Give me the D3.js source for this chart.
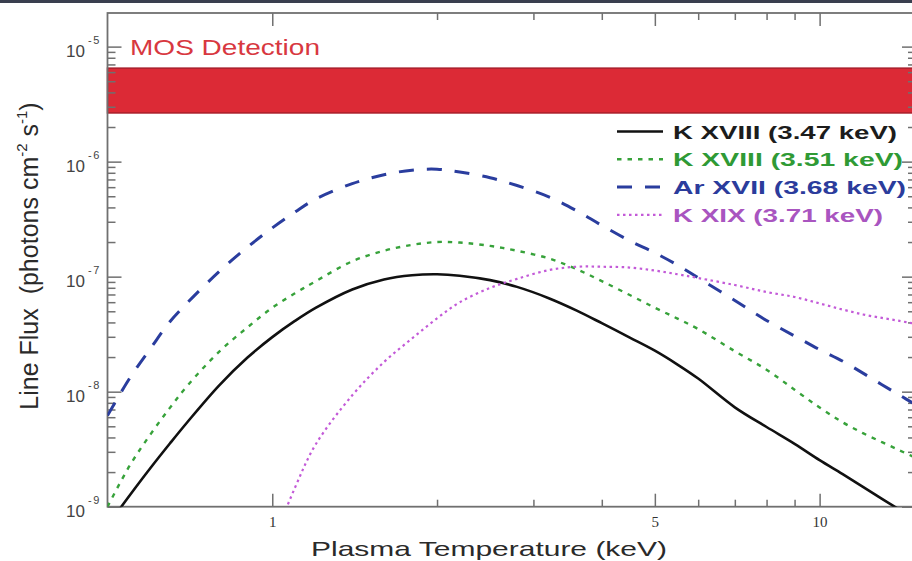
<!DOCTYPE html>
<html>
<head>
<meta charset="utf-8">
<script src="https://cdn.jsdelivr.net/npm/d3@7"></script>
<style>
  html, body { margin: 0; padding: 0; background: #fff; }
  svg { display: block; font-family: "Liberation Sans", Arial, Helvetica, sans-serif; }
</style>
</head>
<body>
<svg id="chart" width="912" height="561"></svg>
<script>
// Plasma temperature grid (keV) shared by all line-flux curves
const temperature = [0.5, 0.55, 0.6, 0.65, 0.7, 0.8, 0.9, 1.0, 1.1, 1.2, 1.4, 1.6, 1.8, 2.0, 2.2,
  2.5, 2.8, 3.2, 3.6, 4.0, 4.5, 5, 5.5, 6, 7, 8, 9, 10, 11, 12, 13, 14, 15];

// Line flux (photons cm^-2 s^-1) for each emission line
const fluxKXVIII_347 = [6.85e-10, 1.27e-9, 2.19e-9, 3.54e-9, 5.45e-9, 1.135e-8, 1.97e-8, 2.98e-8, 4.12e-8, 5.35e-8,
  7.74e-8, 9.46e-8, 1.03e-7, 1.05e-7, 1.02e-7, 9.33e-8, 8.15e-8, 6.5e-8, 5.07e-8, 3.94e-8,
  2.95e-8, 2.27e-8, 1.72e-8, 1.30e-8, 7.31e-9, 4.93e-9, 3.52e-9, 2.54e-9, 1.93e-9, 1.49e-9,
  1.17e-9, 9.4e-10, 7.6e-10];
const fluxKXVIII_351 = [1.0e-9, 2.31e-9, 4.3e-9, 7.23e-9, 1.13e-8, 2.23e-8, 3.61e-8, 5.37e-8, 7.16e-8, 9.12e-8,
  1.36e-7, 1.68e-7, 1.89e-7, 2.0e-7, 1.98e-7, 1.85e-7, 1.68e-7, 1.44e-7, 1.16e-7, 9.14e-8,
  6.92e-8, 5.37e-8, 4.32e-8, 3.5e-8, 2.25e-8, 1.55e-8, 1.04e-8, 7.28e-9, 5.44e-9, 4.36e-9,
  3.64e-9, 3.09e-9, 2.65e-9];
const fluxArXVII_368 = [6.2e-9, 1.33e-8, 2.4e-8, 4.06e-8, 5.94e-8, 1.11e-7, 1.8e-7, 2.65e-7, 3.64e-7, 4.73e-7,
  6.44e-7, 7.69e-7, 8.43e-7, 8.59e-7, 8.13e-7, 7.24e-7, 6.2e-7, 4.95e-7, 3.74e-7, 2.79e-7,
  2.05e-7, 1.61e-7, 1.26e-7, 9.77e-8, 6.21e-8, 4.16e-8, 3.05e-8, 2.32e-8, 1.85e-8, 1.45e-8,
  1.15e-8, 9.33e-9, 7.66e-9];
const fluxKXIX_371 = [null, null, null, null, null, null, null, 4.8e-10, 1.46e-9, 3.47e-9,
  9.3e-9, 1.81e-8, 2.9e-8, 4.34e-8, 5.98e-8, 7.98e-8, 9.57e-8, 1.14e-7, 1.22e-7, 1.22e-7,
  1.2e-7, 1.13e-7, 1.05e-7, 9.73e-8, 8.46e-8, 7.35e-8, 6.66e-8, 5.85e-8, 5.19e-8, 4.69e-8,
  4.38e-8, 4.12e-8, 3.88e-8];

const seriesLabels = ["K XVIII (3.47 keV)", "K XVIII (3.51 keV)", "Ar XVII (3.68 keV)", "K XIX (3.71 keV)"];

// MOS detection limit band (photons cm^-2 s^-1)
const mosBand = [2.65e-6, 6.5e-6];
const mosLabel = "MOS Detection";

// Tick positions and labels
const xMajorTicks = [1, 5, 10];
const xMinorTicks = [2, 3, 4, 6, 7, 8, 9];
const yMajorExponents = [-9, -8, -7, -6, -5];
const xTitle = "Plasma Temperature (keV)";

// ---- drawing ----
const svg = d3.select("#chart");
const plot = { left: 107.5, right: 916, top: 13, bottom: 506.7 };

const x = d3.scaleLog().domain([0.5, 15]).range([plot.left, plot.right]);
const y = d3.scaleLog().domain([1e-9, 1.96e-5]).range([plot.bottom, plot.top]);

const yMajorTicks = yMajorExponents.map(e => Math.pow(10, e));
const yMinorTicks = [];
yMajorExponents.forEach(e => {
  for (let k = 2; k <= 9; k++) {
    const v = k * Math.pow(10, e);
    if (v < y.domain()[1]) yMinorTicks.push(v);
  }
});

// dark strip along the top edge
svg.append("rect").attr("x", 0).attr("y", 0).attr("width", 912).attr("height", 3).attr("fill", "#3a3f4f");

svg.append("defs").append("clipPath").attr("id", "plotClip")
  .append("rect")
  .attr("x", plot.left).attr("y", plot.top)
  .attr("width", plot.right - plot.left).attr("height", plot.bottom - plot.top);

// detection band
svg.append("rect")
  .attr("x", x(0.5)).attr("width", x(15) - x(0.5))
  .attr("y", y(mosBand[1])).attr("height", y(mosBand[0]) - y(mosBand[1]))
  .attr("fill", "#dc2a36").attr("stroke", "#a91d2a").attr("stroke-width", 1.5);

svg.append("text")
  .attr("x", 130).attr("y", 55)
  .attr("font-size", 22).attr("fill", "#d8383f")
  .attr("textLength", 190).attr("lengthAdjust", "spacingAndGlyphs")
  .text(mosLabel);

// axes
const axisColor = "#707070";
function styleAxis(g) {
  g.select(".domain").remove();
  g.selectAll(".tick line").attr("stroke", axisColor).attr("stroke-width", 1.5);
}

const gBottom = svg.append("g").attr("transform", `translate(0,${plot.bottom})`);
gBottom.append("g").call(d3.axisBottom(x).tickValues(xMinorTicks).tickSize(-7).tickFormat("")).call(styleAxis);
const gBottomMajor = gBottom.append("g")
  .call(d3.axisBottom(x).tickValues(xMajorTicks).tickSize(-13).tickPadding(10).tickFormat(d3.format("d")))
  .call(styleAxis);
gBottomMajor.selectAll(".tick text")
  .attr("font-family", "'Liberation Serif', 'Times New Roman', serif")
  .attr("font-size", 15).attr("fill", "#333");

const gTop = svg.append("g").attr("transform", `translate(0,${plot.top})`);
gTop.append("g").call(d3.axisTop(x).tickValues(xMinorTicks).tickSize(-7).tickFormat("")).call(styleAxis);
gTop.append("g").call(d3.axisTop(x).tickValues(xMajorTicks).tickSize(-13).tickFormat("")).call(styleAxis);

const gLeft = svg.append("g").attr("transform", `translate(${plot.left},0)`);
gLeft.append("g").call(d3.axisLeft(y).tickValues(yMinorTicks).tickSize(-8).tickFormat("")).call(styleAxis);
gLeft.append("g").call(d3.axisLeft(y).tickValues(yMajorTicks).tickSize(-14).tickFormat("")).call(styleAxis);

const gRight = svg.append("g").attr("transform", `translate(${plot.right},0)`);
gRight.append("g").call(d3.axisRight(y).tickValues(yMinorTicks).tickSize(-8).tickFormat("")).call(styleAxis);
gRight.append("g").call(d3.axisRight(y).tickValues(yMajorTicks).tickSize(-14).tickFormat("")).call(styleAxis);

// y tick labels as 10 with a superscript exponent
const yLabels = svg.append("g").attr("fill", "#444");
yMajorExponents.forEach(e => {
  const ty = y(Math.pow(10, e));
  yLabels.append("text").attr("x", 85).attr("y", ty + 10)
    .attr("text-anchor", "end").attr("font-size", 17).text("10");
  yLabels.append("text").attr("x", 88).attr("y", ty - 3)
    .attr("font-size", 11).attr("letter-spacing", 1.5).text("-" + Math.abs(e));
});

// frame
svg.append("rect")
  .attr("x", plot.left).attr("y", plot.top)
  .attr("width", plot.right - plot.left).attr("height", plot.bottom - plot.top)
  .attr("fill", "none").attr("stroke", axisColor).attr("stroke-width", 1.8);

// curves
const series = [
  { values: fluxKXVIII_347, color: "#111111", dash: null, width: 2.6, text: "#1c1c1c" },
  { values: fluxKXVIII_351, color: "#37a23a", dash: "4.5,6", width: 2.4, text: "#2f9a35" },
  { values: fluxArXVII_368, color: "#2a3d9e", dash: "15,13", width: 3, text: "#2b3c9c" },
  { values: fluxKXIX_371, color: "#c35ad8", dash: "2.5,3.5", width: 2.2, text: "#a955c0" }
];

const line = d3.line()
  .defined(d => d[1] != null)
  .x(d => x(d[0]))
  .y(d => y(d[1]))
  .curve(d3.curveCatmullRom.alpha(0.5));

const gCurves = svg.append("g").attr("clip-path", "url(#plotClip)");
series.forEach(s => {
  gCurves.append("path")
    .datum(temperature.map((t, i) => [t, s.values[i]]))
    .attr("d", line)
    .attr("fill", "none")
    .attr("stroke", s.color)
    .attr("stroke-width", s.width)
    .attr("stroke-dasharray", s.dash)
    .attr("stroke-linejoin", "round");
});

// legend
const legend = { x: 617, sample: 46, textX: 673, y0: 131.5, gap: 27.8 };
const legendWidths = [224, 230, 233, 210];
series.forEach((s, i) => {
  const ly = legend.y0 + i * legend.gap;
  svg.append("line")
    .attr("x1", legend.x).attr("x2", legend.x + legend.sample)
    .attr("y1", ly).attr("y2", ly)
    .attr("stroke", s.color).attr("stroke-width", s.width)
    .attr("stroke-dasharray", s.dash);
  svg.append("text")
    .attr("x", legend.textX).attr("y", ly + 7)
    .attr("font-size", 19).attr("font-weight", "bold").attr("fill", s.text)
    .attr("textLength", legendWidths[i]).attr("lengthAdjust", "spacingAndGlyphs")
    .text(seriesLabels[i]);
});

// axis titles
svg.append("text")
  .attr("x", 489).attr("y", 556)
  .attr("text-anchor", "middle")
  .attr("font-size", 21).attr("fill", "#2a2a2a")
  .attr("textLength", 356).attr("lengthAdjust", "spacingAndGlyphs")
  .text(xTitle);

const yTitle = svg.append("text")
  .attr("transform", "translate(38,256) rotate(-90)")
  .attr("text-anchor", "middle")
  .attr("font-size", 25).attr("fill", "#2a2a2a")
  .style("white-space", "pre");
yTitle.append("tspan").text("Line Flux  (photons cm");
yTitle.append("tspan").attr("font-size", 15).attr("dy", -11).text("-2");
yTitle.append("tspan").attr("dy", 11).text(" s");
yTitle.append("tspan").attr("font-size", 15).attr("dy", -11).text("-1");
yTitle.append("tspan").attr("dy", 11).text(")");
</script>
</body>
</html>
